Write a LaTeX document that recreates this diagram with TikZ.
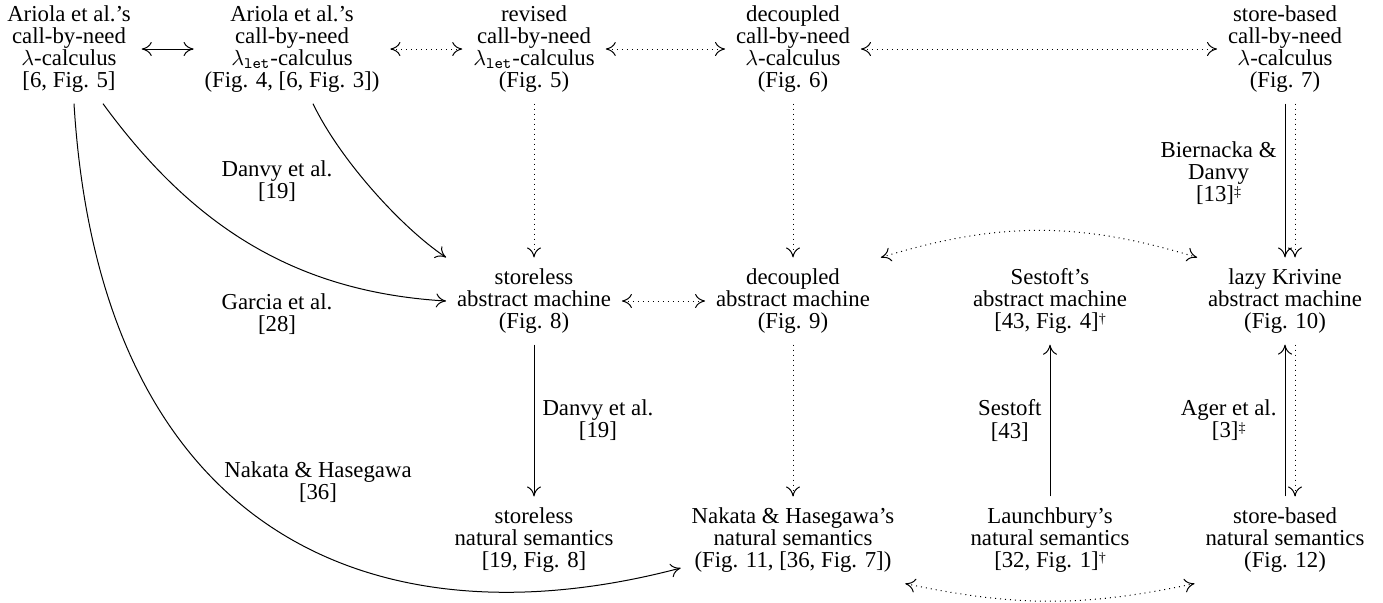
\documentclass[tikz,border=0pt]{standalone}
\usepackage{fontspec}
\setmainfont{Liberation Serif}
\usetikzlibrary{arrows.meta}
\newcommand\figfont{\fontsize{11.4pt}{11.1pt}\selectfont\lineskiplimit=-20pt\relax}
\newcommand\lt{\ensuremath{\lambda_{\mathtt{let}}}}
\newcommand\mymark[1]{\raisebox{2.6pt}{\fontsize{7pt}{7pt}\selectfont #1}}
\begin{document}
\begin{tikzpicture}[x=0.5pt,y=0.5pt,
  box/.style={align=center, inner sep=4pt, outer sep=1.5pt, font=\figfont},
  lab/.style={align=center, inner sep=4pt, font=\figfont},
  arr/.style={line width=0.5pt, -{To[length=5pt,width=7pt]}},
  darr/.style={line width=0.5pt, {To[length=5pt,width=7pt]}-{To[length=5pt,width=7pt]}}
]
\useasboundingbox (0,0) rectangle (1383,-602);
% top row
\node[box] (A1) at (69,-49) {Ariola et al.'s\\call-by-need\\$\lambda$-calculus\\{}[6, Fig. 5]};
\node[box] (A2) at (292,-49) {Ariola et al.'s\\call-by-need\\\lt-calculus\\(Fig. 4, [6, Fig. 3])};
\node[box] (A3) at (534,-49) {revised\\call-by-need\\\lt-calculus\\(Fig. 5)};
\node[box] (A4) at (793,-49) {decoupled\\call-by-need\\$\lambda$-calculus\\(Fig. 6)};
\node[box] (A5) at (1285,-49) {store-based\\call-by-need\\$\lambda$-calculus\\(Fig. 7)};
% middle row
\node[box] (B1) at (534,-301) {storeless\\abstract machine\\(Fig. 8)};
\node[box] (B2) at (793,-301) {decoupled\\abstract machine\\(Fig. 9)};
\node[box] (B3) at (1050,-301) {Sestoft's\\abstract machine\\{}[43, Fig. 4]\mymark{†}};
\node[box] (B4) at (1285,-301) {lazy Krivine\\abstract machine\\(Fig. 10)};
% bottom row
\node[box] (C1) at (534,-540) {storeless\\natural semantics\\{}[19, Fig. 8]};
\node[box] (C2) at (793,-540) {Nakata \& Hasegawa's\\natural semantics\\(Fig. 11, [36, Fig. 7])};
\node[box] (C3) at (1050,-540) {Launchbury's\\natural semantics\\{}[32, Fig. 1]\mymark{†}};
\node[box] (C4) at (1285,-540) {store-based\\natural semantics\\(Fig. 12)};
% free labels
\node[lab] (L1) at (277,-181) {Danvy et al.\\{}[19]};
\node[lab] (L2) at (277,-314) {Garcia et al.\\{}[28]};
\node[lab] (L3) at (318,-482) {Nakata \& Hasegawa\\{}[36]};
% horizontal connectors
\draw[darr] (A1) -- (A2);
\draw[darr,dotted] (A2) -- (A3);
\draw[darr,dotted] (A3) -- (A4);
\draw[darr,dotted] (A4) -- (A5);
\draw[darr,dotted] (B1) -- (B2);
\draw[darr,dotted] (B2.north east) to[bend left=17] (B4.north west);
\draw[darr,dotted] (C2.south east) to[bend right=12] (C4.south west);
% vertical connectors
\draw[arr,dotted] (A3) -- (B1);
\draw[arr,dotted] (A4) -- (B2);
\draw[arr] (A5) -- node[lab,left,pos=0.45] (L5) {Biernacka \&\\Danvy\\{}[13]\mymark{‡}} (B4);
\draw[arr,dotted] ([xshift=5pt]A5.south) -- ([xshift=5pt]B4.north);
\draw[arr] (C4) -- node[lab,left] (L7) {Ager et al.\\{}[3]\mymark{‡}} (B4);
\draw[arr,dotted] ([xshift=5pt]B4.south) -- ([xshift=5pt]C4.north);
\draw[arr] (B1) -- node[lab,right] (L4) {Danvy et al.\\{}[19]} (C1);
\draw[arr,dotted] (B2) -- (C2);
\draw[arr] (C3) -- node[lab,left] (L6) {Sestoft\\{}[43]} (B3);
% curved connectors
\draw[arr] ([xshift=2.5pt]A1.south) .. controls (100,-530) and (370,-650) .. (C2.194);
\draw[arr] ([xshift=17pt]A1.south) .. controls (193,-227) and (296,-292) .. (B1.west);
\draw[arr] ([xshift=10.5pt]A2.south) .. controls (340,-160) and (402,-228) .. (B1.north west);
\end{tikzpicture}
\end{document}
